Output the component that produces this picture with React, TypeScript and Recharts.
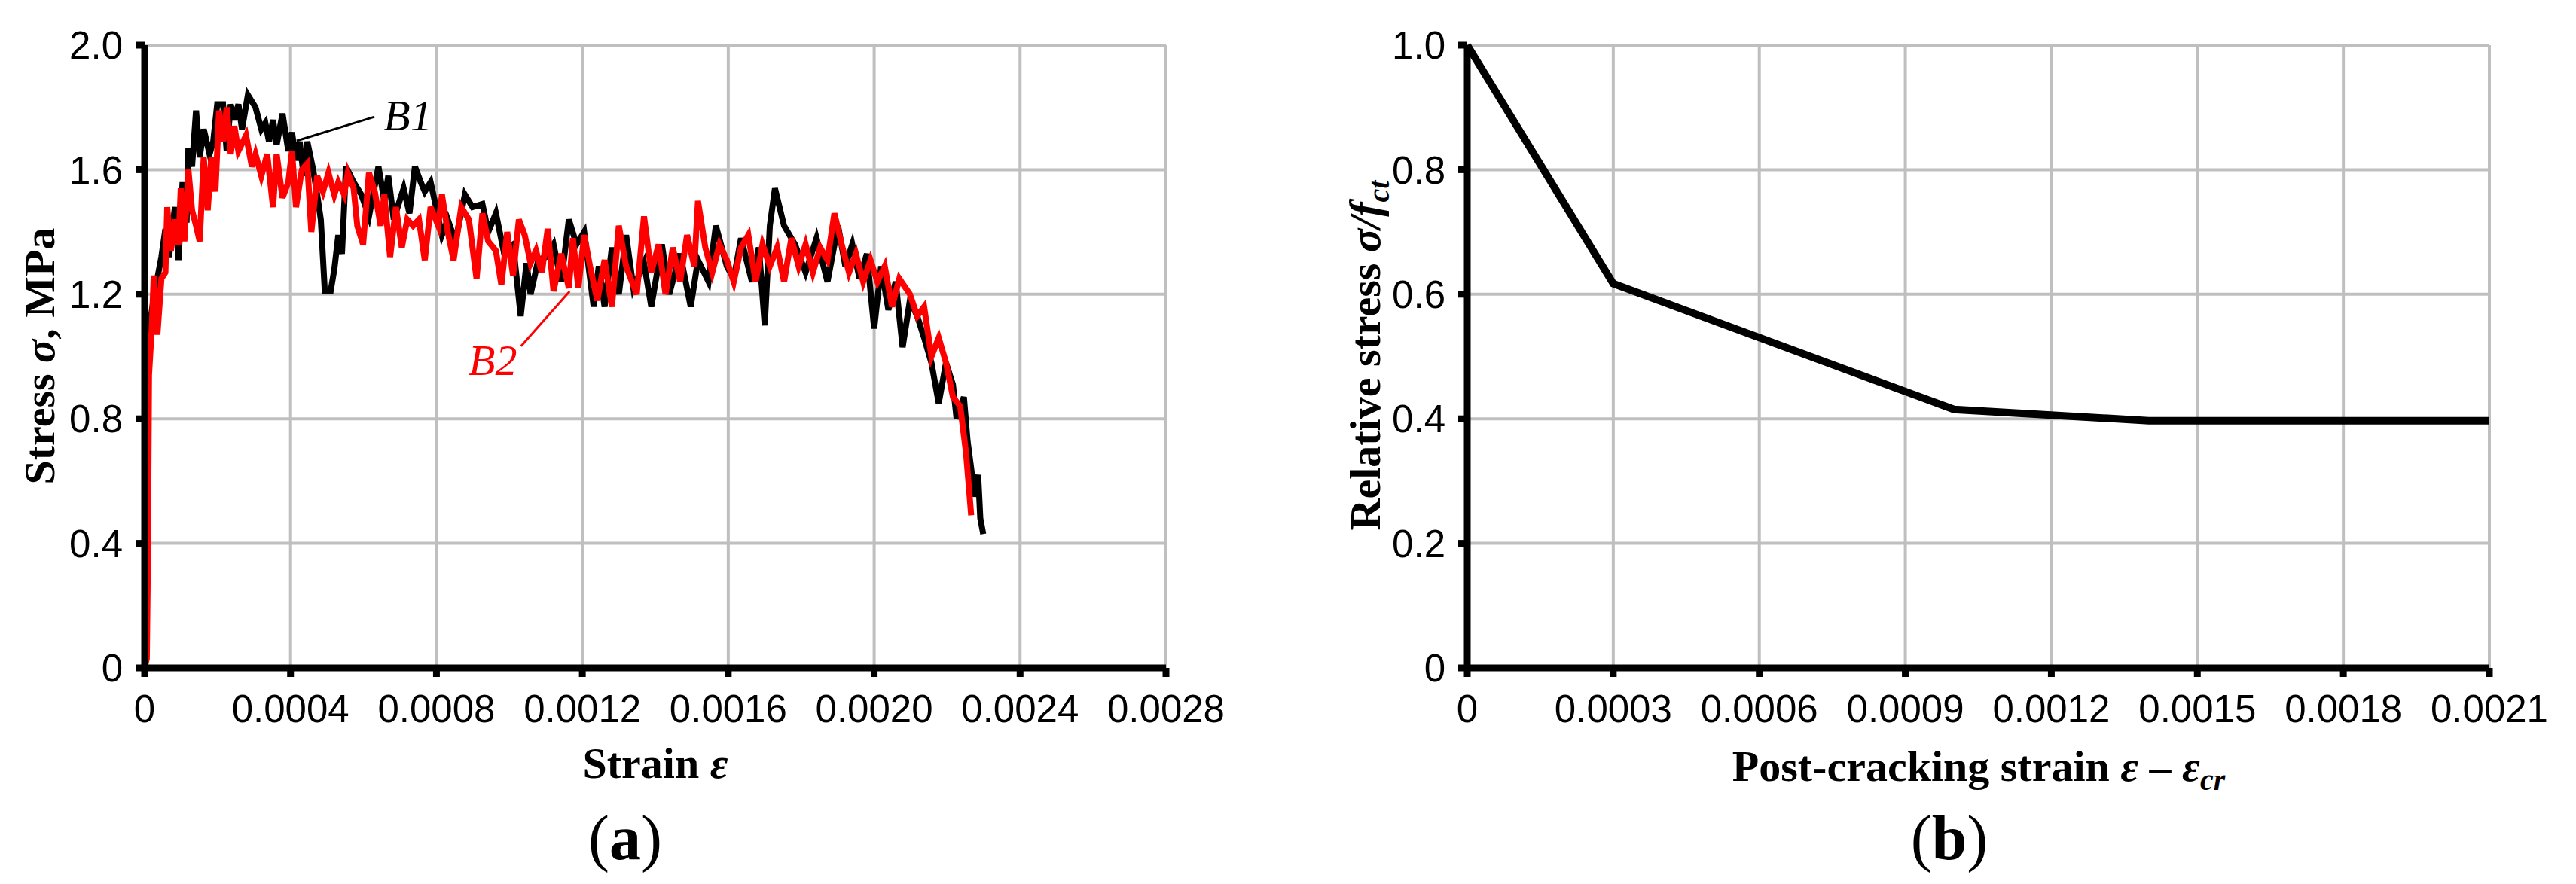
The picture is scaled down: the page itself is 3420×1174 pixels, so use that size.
import React from 'react';
import { LineChart, Line, XAxis, YAxis, CartesianGrid, ReferenceLine, ReferenceDot } from 'recharts';

// (a) measured tension curves, [microstrain, stress MPa]
const b1Points: [number, number][] = [
  [0, 0], [4, 0.25], [8, 0.97], [14, 1.1], [25, 1.19], [46, 1.32], [57, 1.41], [67, 1.32], [83, 1.48], [93, 1.31],
  [104, 1.56], [115, 1.43], [120, 1.67], [130, 1.61], [141, 1.79], [151, 1.64], [162, 1.73], [178, 1.65], [188, 1.69], [199, 1.81],
  [215, 1.81], [225, 1.66], [236, 1.81], [246, 1.76], [257, 1.81], [267, 1.73], [283, 1.84], [304, 1.8], [320, 1.73], [331, 1.75],
  [341, 1.69], [352, 1.76], [362, 1.68], [378, 1.78], [394, 1.66], [404, 1.72], [415, 1.63], [425, 1.69], [436, 1.58], [446, 1.69],
  [462, 1.6], [473, 1.52], [483, 1.44], [494, 1.21], [510, 1.21], [520, 1.28], [531, 1.39], [541, 1.33], [552, 1.61], [573, 1.56],
  [594, 1.52], [615, 1.45], [641, 1.61], [657, 1.5], [668, 1.58], [683, 1.44], [699, 1.5], [710, 1.54], [726, 1.46], [741, 1.61],
  [757, 1.56], [768, 1.53], [784, 1.56], [799, 1.48], [815, 1.39], [831, 1.44], [852, 1.37], [878, 1.52], [899, 1.48], [926, 1.49],
  [942, 1.4], [963, 1.46], [984, 1.34], [1010, 1.36], [1031, 1.13], [1047, 1.3], [1058, 1.2], [1079, 1.31], [1100, 1.32], [1121, 1.36],
  [1142, 1.24], [1163, 1.44], [1184, 1.36], [1205, 1.4], [1231, 1.16], [1245, 1.29], [1261, 1.16], [1281, 1.35], [1300, 1.2], [1320, 1.39],
  [1340, 1.22], [1369, 1.3], [1389, 1.16], [1418, 1.36], [1438, 1.2], [1468, 1.33], [1497, 1.16], [1517, 1.31], [1546, 1.24], [1566, 1.42],
  [1596, 1.29], [1615, 1.25], [1635, 1.38], [1665, 1.24], [1684, 1.35], [1700, 1.1], [1714, 1.42], [1728, 1.54], [1753, 1.42], [1783, 1.36],
  [1812, 1.27], [1842, 1.38], [1872, 1.24], [1901, 1.42], [1921, 1.29], [1940, 1.36], [1960, 1.25], [1980, 1.33], [2000, 1.09], [2019, 1.29],
  [2039, 1.15], [2059, 1.24], [2078, 1.03], [2098, 1.18], [2118, 1.13], [2137, 1.06], [2157, 0.98], [2177, 0.85], [2197, 0.98], [2216, 0.91],
  [2226, 0.8], [2246, 0.87], [2256, 0.73], [2266, 0.64], [2275, 0.55], [2285, 0.62], [2291, 0.48], [2299, 0.43],
];

const b2Points: [number, number][] = [
  [0, 0], [6, 0.03], [9, 0.35], [11, 0.75], [12, 0.94], [20, 1.1], [25, 1.26], [35, 1.07], [46, 1.25], [57, 1.27],
  [62, 1.48], [72, 1.34], [83, 1.44], [93, 1.36], [99, 1.54], [109, 1.37], [120, 1.6], [130, 1.47], [141, 1.42], [151, 1.37],
  [162, 1.64], [173, 1.47], [183, 1.64], [194, 1.53], [204, 1.79], [215, 1.69], [225, 1.8], [236, 1.65], [246, 1.74], [257, 1.66],
  [278, 1.71], [294, 1.61], [304, 1.65], [320, 1.58], [336, 1.65], [352, 1.48], [362, 1.65], [378, 1.51], [394, 1.56], [404, 1.66],
  [415, 1.48], [431, 1.6], [446, 1.62], [457, 1.4], [473, 1.58], [489, 1.53], [504, 1.59], [520, 1.52], [531, 1.56], [547, 1.52],
  [557, 1.59], [573, 1.54], [583, 1.42], [599, 1.36], [615, 1.59], [631, 1.53], [647, 1.42], [657, 1.52], [673, 1.32], [689, 1.48],
  [705, 1.35], [720, 1.44], [736, 1.42], [752, 1.44], [768, 1.31], [784, 1.48], [805, 1.42], [815, 1.52], [831, 1.4], [847, 1.31],
  [868, 1.48], [889, 1.44], [910, 1.25], [926, 1.46], [942, 1.37], [963, 1.34], [978, 1.23], [994, 1.4], [1010, 1.26], [1026, 1.44],
  [1042, 1.39], [1058, 1.3], [1073, 1.34], [1089, 1.27], [1105, 1.41], [1121, 1.21], [1142, 1.33], [1163, 1.22], [1174, 1.38], [1189, 1.22],
  [1205, 1.39], [1221, 1.29], [1241, 1.18], [1261, 1.31], [1281, 1.16], [1300, 1.42], [1320, 1.29], [1349, 1.2], [1369, 1.45], [1389, 1.27],
  [1409, 1.36], [1428, 1.2], [1448, 1.35], [1468, 1.24], [1487, 1.39], [1507, 1.29], [1517, 1.5], [1537, 1.35], [1556, 1.27], [1576, 1.36],
  [1596, 1.31], [1615, 1.24], [1635, 1.35], [1655, 1.39], [1675, 1.24], [1694, 1.36], [1714, 1.29], [1734, 1.35], [1753, 1.24], [1773, 1.38],
  [1793, 1.29], [1812, 1.36], [1832, 1.27], [1852, 1.35], [1872, 1.31], [1891, 1.46], [1911, 1.36], [1931, 1.27], [1950, 1.33], [1970, 1.24],
  [1990, 1.31], [2009, 1.24], [2029, 1.29], [2049, 1.16], [2069, 1.25], [2098, 1.2], [2118, 1.13], [2137, 1.16], [2157, 1.0], [2177, 1.06],
  [2197, 0.98], [2216, 0.87], [2236, 0.84], [2252, 0.69], [2266, 0.49],
];

// (b) softening law
const softStrain = [0, 300, 1000, 1400, 2100]; // microstrain
const softStress = [1, 0.617, 0.415, 0.397, 0.397];

const xTicksA = [0, 0.0004, 0.0008, 0.0012, 0.0016, 0.002, 0.0024, 0.0028];
const xLabelsA = ['0', '0.0004', '0.0008', '0.0012', '0.0016', '0.0020', '0.0024', '0.0028'];
const yTicksA = [0, 0.4, 0.8, 1.2, 1.6, 2.0];
const yLabelsA = ['0', '0.4', '0.8', '1.2', '1.6', '2.0'];
const xTicksB = [0, 0.0003, 0.0006, 0.0009, 0.0012, 0.0015, 0.0018, 0.0021];
const xLabelsB = ['0', '0.0003', '0.0006', '0.0009', '0.0012', '0.0015', '0.0018', '0.0021'];
const yTicksB = [0, 0.2, 0.4, 0.6, 0.8, 1.0];
const yLabelsB = ['0', '0.2', '0.4', '0.6', '0.8', '1.0'];

const toRows = (pts: [number, number][]) => pts.map(([us, s]) => ({ x: us / 1e6, y: s }));
const b1Data = toRows(b1Points);
const b2Data = toRows(b2Points);
const softData = softStrain.map((us, i) => ({ x: us / 1e6, y: softStress[i] }));

const AXIS = { stroke: '#000', strokeWidth: 9 };
const TICK = { fill: '#000', fontSize: 51, fontFamily: 'Liberation Sans' };
const GRID = '#BFBFBF';
const SERIF = 'Liberation Serif';

const noteText = (text: string, color: string) => (props: any) => (
  <text x={props.cx} y={props.cy} fill={color} fontSize={58} fontStyle="italic" fontFamily={SERIF}>
    {text}
  </text>
);

const App: React.FC = () => {
  return (
    <div style={{ position: 'absolute', left: 0, top: 0, width: 3420, height: 1174, background: '#fff' }}>
      <div style={{ position: 'absolute', left: 0, top: 0 }}>
        <LineChart width={1710} height={1174} margin={{ top: 60, right: 162, bottom: 187, left: 92 }}>
          <CartesianGrid stroke={GRID} strokeWidth={4} />
          <XAxis
            type="number"
            dataKey="x"
            domain={[0, 0.0028]}
            ticks={xTicksA}
            interval={0}
            height={100}
            axisLine={AXIS}
            tickLine={AXIS}
            tickSize={12}
            tickMargin={24}
            tick={TICK}
            tickFormatter={(v: number, i: number) => xLabelsA[i]}
          />
          <YAxis
            type="number"
            domain={[0, 2]}
            ticks={yTicksA}
            interval={0}
            width={100}
            axisLine={AXIS}
            tickLine={AXIS}
            tickSize={12}
            tickMargin={17}
            tick={TICK}
            tickFormatter={(v: number, i: number) => yLabelsA[i]}
          />
          <Line data={b1Data} dataKey="y" type="linear" stroke="#000" strokeWidth={8} dot={false} isAnimationActive={false} />
          <Line data={b2Data} dataKey="y" type="linear" stroke="#FF0000" strokeWidth={8} dot={false} isAnimationActive={false} />
          <ReferenceLine segment={[{ x: 0.000417, y: 1.693 }, { x: 0.00063, y: 1.77 }]} stroke="#000" strokeWidth={3} />
          <ReferenceLine segment={[{ x: 0.001032, y: 1.033 }, { x: 0.001165, y: 1.209 }]} stroke="#FF0000" strokeWidth={3} />
          <ReferenceDot x={0.000655} y={1.727} r={0} shape={noteText('B1', '#000')} />
          <ReferenceDot x={0.000888} y={0.941} r={0} shape={noteText('B2', '#FF0000')} />
        </LineChart>
      </div>

      <div style={{ position: 'absolute', left: 1710, top: 0 }}>
        <LineChart width={1710} height={1174} margin={{ top: 60, right: 115, bottom: 187, left: 138 }}>
          <CartesianGrid stroke={GRID} strokeWidth={4} />
          <XAxis
            type="number"
            dataKey="x"
            domain={[0, 0.0021]}
            ticks={xTicksB}
            interval={0}
            height={100}
            axisLine={AXIS}
            tickLine={AXIS}
            tickSize={12}
            tickMargin={24}
            tick={TICK}
            tickFormatter={(v: number, i: number) => xLabelsB[i]}
          />
          <YAxis
            type="number"
            domain={[0, 1]}
            ticks={yTicksB}
            interval={0}
            width={100}
            axisLine={AXIS}
            tickLine={AXIS}
            tickSize={12}
            tickMargin={17}
            tick={TICK}
            tickFormatter={(v: number, i: number) => yLabelsB[i]}
          />
          <Line data={softData} dataKey="y" type="linear" stroke="#000" strokeWidth={10} dot={false} isAnimationActive={false} />
        </LineChart>
      </div>

      {/* axis titles and panel captions */}
      <svg width={3420} height={1174} style={{ position: 'absolute', left: 0, top: 0, pointerEvents: 'none' }}>
        <g fontFamily={SERIF} fontWeight="bold" fontSize={58} fill="#000">
          <text x={72} y={473} textAnchor="middle" transform="rotate(-90 72 473)">
            Stress <tspan fontStyle="italic">σ</tspan>, MPa
          </text>
          <text x={870} y={1033} textAnchor="middle">
            Strain <tspan fontStyle="italic">ε</tspan>
          </text>
          <text x={1832} y={472} textAnchor="middle" transform="rotate(-90 1832 472)">
            Relative stress <tspan fontStyle="italic">σ/f</tspan>
            <tspan fontStyle="italic" fontSize={40} dy={12}>ct</tspan>
          </text>
          <text x={2627} y={1037} textAnchor="middle">
            Post-cracking strain <tspan fontStyle="italic">ε</tspan> – <tspan fontStyle="italic">ε</tspan>
            <tspan fontStyle="italic" fontSize={40} dy={12}>cr</tspan>
          </text>
        </g>
        <g fontFamily={SERIF} fontSize={84} fill="#000">
          <text x={830} y={1141} textAnchor="middle">
            (<tspan fontWeight="bold">a</tspan>)
          </text>
          <text x={2588} y={1141} textAnchor="middle">
            (<tspan fontWeight="bold">b</tspan>)
          </text>
        </g>
      </svg>
    </div>
  );
};

export default App;
